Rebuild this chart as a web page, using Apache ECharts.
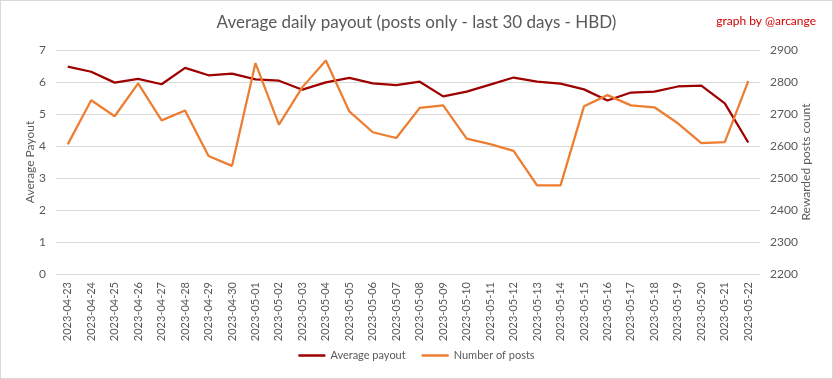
<!DOCTYPE html>
<html>
<head>
<meta charset="utf-8">
<script src="https://cdn.jsdelivr.net/npm/echarts@6/dist/echarts.min.js"></script>
<style>
html,body{margin:0;padding:0;background:#fff;}
#chart{width:833px;height:379px;box-sizing:border-box;border:1px solid #d9d9d9;}
</style>
</head>
<body>
<div id="chart"></div>
<script>
const categories = ["2023-04-23","2023-04-24","2023-04-25","2023-04-26","2023-04-27","2023-04-28","2023-04-29","2023-04-30","2023-05-01","2023-05-02","2023-05-03","2023-05-04","2023-05-05","2023-05-06","2023-05-07","2023-05-08","2023-05-09","2023-05-10","2023-05-11","2023-05-12","2023-05-13","2023-05-14","2023-05-15","2023-05-16","2023-05-17","2023-05-18","2023-05-19","2023-05-20","2023-05-21","2023-05-22"];
const averagePayout = [6.48,6.32,5.98,6.10,5.93,6.44,6.21,6.26,6.08,6.04,5.76,5.99,6.13,5.96,5.90,6.01,5.55,5.70,5.92,6.14,6.01,5.95,5.77,5.42,5.67,5.70,5.86,5.89,5.33,4.11];
const numberOfPosts = [2605,2743,2693,2796,2680,2711,2569,2538,2859,2667,2784,2867,2708,2643,2625,2719,2727,2623,2606,2585,2477,2477,2724,2759,2727,2721,2671,2609,2612,2803];
const leftTicks = {min:0, max:7, interval:1};
const rightTicks = {min:2200, max:2900, interval:100};

const chart = echarts.init(document.getElementById('chart'));
const font = 'Lato, "Open Sans", sans-serif';
const grey = '#595959';
chart.setOption({
  animation:false,
  textStyle:{fontFamily:font},
  title:[{
    text:'Average daily payout (posts only - last 30 days - HBD)',
    left:'center', top:8,
    textStyle:{fontFamily:font, fontSize:17, fontWeight:'normal', color:grey}
  },{
    text:'graph by @arcange',
    right:11, top:9,
    textStyle:{fontFamily:font, fontSize:12, fontWeight:'normal', color:'#d00000'}
  }],
  legend:{
    bottom:12, left:'center',
    icon:'rect', itemWidth:27, itemHeight:2.5, itemGap:16,
    textStyle:{fontFamily:font, fontSize:11, color:grey},
    data:['Average payout','Number of posts']
  },
  grid:{left:55, right:72, top:49, bottom:104},
  xAxis:{
    type:'category', data:categories, boundaryGap:true,
    axisLine:{show:true, lineStyle:{color:'#d9d9d9'}},
    axisTick:{show:false},
    axisLabel:{rotate:90, color:grey, fontSize:11, fontFamily:font, interval:0, margin:8}
  },
  yAxis:[{
    type:'value', min:leftTicks.min, max:leftTicks.max, interval:leftTicks.interval,
    name:'Average Payout', nameLocation:'middle', nameGap:20, nameRotate:90, nameMoveOverlap:false,
    nameTextStyle:{color:grey, fontSize:12, fontFamily:font},
    axisLabel:{color:grey, fontSize:12, fontFamily:font, margin:10},
    axisLine:{show:false}, axisTick:{show:false},
    splitLine:{lineStyle:{color:'#d9d9d9'}}
  },{
    type:'value', min:rightTicks.min, max:rightTicks.max, interval:rightTicks.interval,
    name:'Rewarded posts count', nameLocation:'middle', nameGap:40, nameRotate:90, nameMoveOverlap:false,
    nameTextStyle:{color:grey, fontSize:12, fontFamily:font},
    axisLabel:{color:grey, fontSize:12, fontFamily:font, margin:10, formatter:function(v){return String(v);}},
    axisLine:{show:false}, axisTick:{show:false},
    splitLine:{show:false}
  }],
  series:[{
    name:'Average payout', type:'line', yAxisIndex:0, data:averagePayout,
    symbol:'none', lineStyle:{color:'#9e0000', width:2.25}, itemStyle:{color:'#9e0000'}
  },{
    name:'Number of posts', type:'line', yAxisIndex:1, data:numberOfPosts,
    symbol:'none', lineStyle:{color:'#ed7d31', width:2.25}, itemStyle:{color:'#ed7d31'}
  }]
});
</script>
</body>
</html>
